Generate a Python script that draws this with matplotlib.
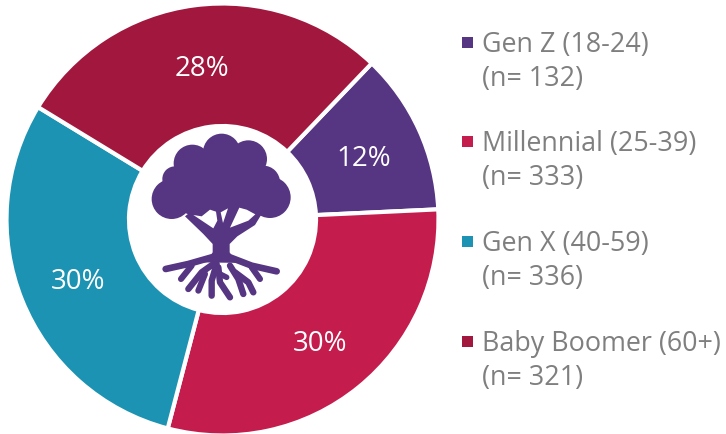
import matplotlib
matplotlib.use('Agg')
import matplotlib.pyplot as plt
from matplotlib.patches import Circle, Polygon, Rectangle

plt.rcParams['font.family'] = ['Open Sans', 'DejaVu Sans']

groups = ['Gen Z (18-24)', 'Millennial (25-39)', 'Gen X (40-59)', 'Baby Boomer (60+)']
counts = [132, 333, 336, 321]
# slice sizes
shares = [12.1, 29.8, 29.6, 28.4]
pct_labels = ['12%', '30%', '30%', '28%']
colors = ['#563582', '#c41c4c', '#1c93b2', '#a1173d']
text_grey = '#7f7f7f'
tree_col = '#563582'

fig = plt.figure(figsize=(7.26, 4.35), dpi=100)

# main axes in pixels, y going up
ax = fig.add_axes([0, 0, 1, 1])
wedges, texts = ax.pie(shares, colors=colors, labels=pct_labels, startangle=46.3, counterclock=False,
                       center=(222.5, 214.5), radius=216, labeldistance=0.72,
                       wedgeprops={'width': 122.5, 'edgecolor': 'white', 'linewidth': 3},
                       textprops={'color': 'white', 'fontsize': 20})
for t in texts:
    t.set_ha('center')
    t.set_va('center')
    x, y = t.get_position()
    t.set_position((x, y - 3))
ax.set_xlim(0, 726)
ax.set_ylim(0, 435)
ax.axis('off')

# legend by hand, the gaps are not even in the original
leg_y = [43, 142, 242, 342]
for g, c, n, y in zip(groups, colors, counts, leg_y):
    ax.add_patch(Rectangle((462, 435 - y - 5.5), 11, 11, color=c, lw=0))
    ax.text(482, 435 - y - 2, g, color=text_grey, fontsize=19.4, va='center', ha='left')
    ax.text(482, 435 - y - 36, '(n= %d)' % n, color=text_grey, fontsize=19.4, va='center', ha='left')

# tree logo, coordinates taken from a 3x crop starting at (130, 120)
tx = fig.add_axes([0, 0, 1, 1])
tx.set_xlim(-390, 1788)
tx.set_ylim(945, -360)
tx.axis('off')

crown = [(125, 240, 60), (135, 180, 38), (187, 133, 56), (275, 100, 56), (355, 120, 56),
         (420, 235, 62), (270, 190, 95), (345, 205, 80), (200, 210, 80), (400, 190, 50)]
for cx, cy, r in crown:
    tx.add_patch(Circle((cx, cy), r, color=tree_col, lw=0))

trunk = [(165, 292), (220, 345), (248, 375), (248, 400), (235, 418), (205, 430),
         (345, 432), (312, 420), (299, 400), (299, 375), (322, 352), (375, 318), (395, 285),
         (300, 240), (230, 240)]
tx.add_patch(Polygon(trunk, color=tree_col, lw=0))

# gaps between the branches, on top of crown and trunk
gaps = [[(190, 288), (215, 292), (240, 272), (258, 278), (262, 305), (250, 328)],
        [(272, 280), (294, 268), (279, 312)],
        [(328, 266), (350, 272), (376, 286), (355, 305), (300, 326)]]
for g in gaps:
    tx.add_patch(Polygon(g, color='white', lw=0))


def stroke(xs, ys, w):
    tx.plot(xs, ys, color=tree_col, lw=w, solid_capstyle='round', solid_joinstyle='round')


# roots
stroke([107, 175, 245], [450, 435, 415], 4.8)
stroke([440, 365, 295], [457, 440, 413], 4.8)
stroke([185, 153], [440, 480], 4.4)
stroke([365, 390], [445, 480], 4.4)
stroke([250, 215, 175], [435, 460, 510], 4.6)
stroke([225, 205], [465, 515], 4.4)
stroke([260, 245, 245], [435, 485, 530], 4.6)
stroke([265, 270, 300], [445, 490, 535], 4.6)
stroke([260, 290], [460, 475], 4)
stroke([300, 325, 340], [440, 480, 525], 4.6)
stroke([315, 355, 370], [460, 490, 520], 4.6)

fig.savefig('out.png', dpi=100)
